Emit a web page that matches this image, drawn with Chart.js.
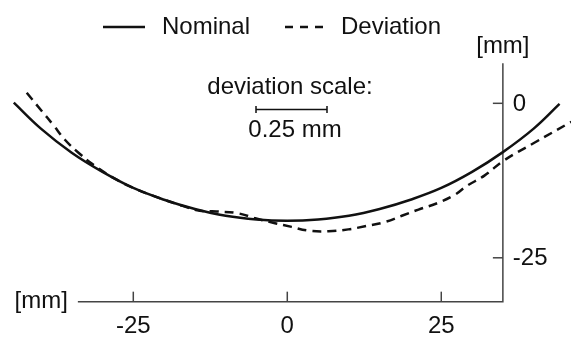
<!DOCTYPE html>
<html>
<head>
<meta charset="utf-8">
<script src="https://cdn.jsdelivr.net/npm/chart.js@4/dist/chart.umd.min.js"></script>
<style>
  html, body { margin: 0; padding: 0; background: #fff; }
  #wrap { width: 571px; height: 338px; }
</style>
</head>
<body>
<div id="wrap"><canvas id="chart"></canvas></div>
<script>
// profile values, in mm
const nominalX = [-44.4, -40, -35, -30, -25, -20, -15, -10, -5, 0, 5, 10, 15, 20, 25, 30, 35, 40, 44.2];
const nominalY = [0.1, -4.1, -8.0, -11.1, -13.7, -15.6, -17.1, -18.2, -18.8, -19.0, -18.8, -18.2, -17.1, -15.6, -13.7, -11.1, -7.9, -4.1, -0.1];

const deviationX = [-42.3, -39.9, -38.0, -36.1, -33.9, -31.4, -28, -25, -20, -17, -14.2, -11.5, -8.0, -5.2, -2, 0.7, 3.4, 6.7, 9.9, 12.6, 15.9, 18.6, 21.3, 24.5, 27.2, 29.1, 32, 35.1, 39.9, 46.1];
const deviationY = [1.7, -1.2, -3.5, -5.9, -8.0, -10.0, -12.2, -13.7, -15.6, -16.6, -17.4, -17.5, -17.8, -18.6, -19.4, -20.0, -20.6, -20.7, -20.4, -19.9, -19.2, -18.2, -17.2, -16.1, -14.8, -13.4, -11.7, -9.3, -6.5, -3.0];

const xTicks = [-25, 0, 25];
const yTicks = [0, -25];
const seriesNames = ['Nominal', 'Deviation'];

const FONT = '"Liberation Sans", Arial, sans-serif';
const INK = '#111';

function toPoints(xs, ys) {
  return xs.map((x, i) => ({ x: x, y: ys[i] }));
}

// axes, legend and the deviation scale note
const decor = {
  id: 'decor',
  beforeDatasetsDraw(chart) {
    const ctx = chart.ctx;
    const sx = chart.scales.x, sy = chart.scales.y;
    const y0 = sy.getPixelForValue(-32.1);
    const xa = sx.getPixelForValue(-34);
    const xb = sx.getPixelForValue(35);
    const yTop = sy.getPixelForValue(6.5);

    ctx.save();
    ctx.strokeStyle = '#444';
    ctx.lineWidth = 1.5;
    ctx.beginPath();
    ctx.moveTo(xa, y0);
    ctx.lineTo(xb, y0);
    ctx.lineTo(xb, yTop);
    ctx.stroke();

    ctx.fillStyle = INK;
    ctx.font = '24px ' + FONT;
    ctx.textAlign = 'center';
    ctx.textBaseline = 'middle';
    xTicks.forEach(t => {
      const px = sx.getPixelForValue(t);
      ctx.beginPath();
      ctx.moveTo(px, y0);
      ctx.lineTo(px, y0 - 10);
      ctx.stroke();
      ctx.fillText(String(t), px, y0 + 25);
    });
    ctx.textAlign = 'left';
    yTicks.forEach(t => {
      const py = sy.getPixelForValue(t);
      ctx.beginPath();
      ctx.moveTo(xb, py);
      ctx.lineTo(xb - 10, py);
      ctx.stroke();
      ctx.fillText(String(t), xb + 10, py + 1);
    });

    ctx.textAlign = 'right';
    ctx.fillText('[mm]', xa - 10, y0);
    ctx.textAlign = 'center';
    ctx.fillText('[mm]', xb, 46);

    // deviation scale note
    ctx.fillText('deviation scale:', 290, 87);
    ctx.fillText('0.25 mm', 295, 130);
    ctx.strokeStyle = INK;
    ctx.beginPath();
    ctx.moveTo(256, 109.5);
    ctx.lineTo(327, 109.5);
    ctx.moveTo(256, 106);
    ctx.lineTo(256, 113);
    ctx.moveTo(327, 106);
    ctx.lineTo(327, 113);
    ctx.stroke();

    // legend
    ctx.lineWidth = 2.5;
    ctx.beginPath();
    ctx.moveTo(103, 27);
    ctx.lineTo(145, 27);
    ctx.stroke();
    ctx.setLineDash([8, 7]);
    ctx.beginPath();
    ctx.moveTo(285, 27);
    ctx.lineTo(323, 27);
    ctx.stroke();
    ctx.setLineDash([]);
    ctx.textAlign = 'left';
    ctx.fillText(seriesNames[0], 162, 27);
    ctx.fillText(seriesNames[1], 341, 27);
    ctx.restore();
  }
};

new Chart(document.getElementById('chart'), {
  type: 'line',
  data: {
    datasets: [
      {
        label: seriesNames[0],
        data: toPoints(nominalX, nominalY),
        borderColor: INK,
        borderWidth: 2.5,
        pointRadius: 0,
        tension: 0.4,
        fill: false
      },
      {
        label: seriesNames[1],
        data: toPoints(deviationX, deviationY),
        borderColor: INK,
        borderWidth: 2.5,
        borderDash: [9, 6],
        pointRadius: 0,
        tension: 0.4,
        fill: false
      }
    ]
  },
  options: {
    responsive: true,
    maintainAspectRatio: false,
    animation: false,
    layout: { padding: 0 },
    plugins: { legend: { display: false }, tooltip: { enabled: false } },
    scales: {
      x: { type: 'linear', display: false, min: -46.64, max: 46.06 },
      y: { type: 'linear', display: false, min: -37.98, max: 16.72 }
    }
  },
  plugins: [decor]
});
</script>
</body>
</html>
